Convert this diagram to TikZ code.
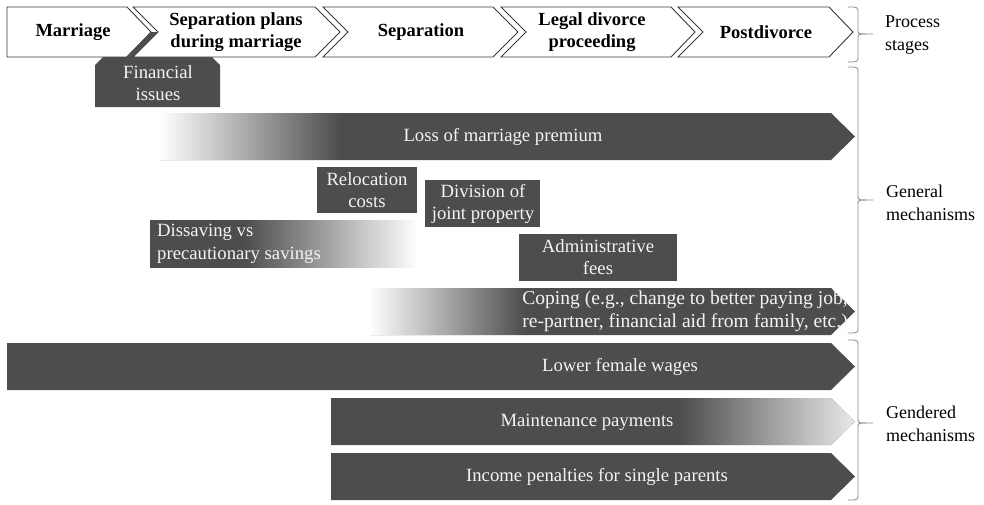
\documentclass[tikz,border=0pt]{standalone}
\usepackage{fontspec}
\setmainfont{Liberation Serif}
\definecolor{barc}{HTML}{4D4D4F}
\definecolor{chevline}{HTML}{3A3A3A}
\definecolor{bartext}{HTML}{F4F4F4}
\definecolor{bracec}{HTML}{8C8C8C}
\definecolor{fadeend}{HTML}{E8E8E8}
% horizontal colour ramp built from thin strips: x1, x2, y1, y2, start colour, end colour
\newcommand\gradstrip[6]{%
  \foreach \i in {0,...,89}{%
    \pgfmathsetmacro\xa{#1+(#2-#1)*\i/90}%
    \pgfmathsetmacro\xb{#1+(#2-#1)*(\i+1)/90+0.4}%
    \pgfmathsetmacro\pc{100*(\i+0.5)/90}%
    \fill[#6!\pc!#5] (\xa,#3) rectangle (\xb,#4);
  }}
\begin{document}
\begin{tikzpicture}[x=1pt,y=-1pt,
  chev/.style={draw=chevline, fill=white, line width=0.9pt, line join=miter},
  bar/.style={fill=barc},
  head/.style={font=\bfseries\fontsize{18.5}{21.5}\selectfont, align=center, text=black, inner sep=0pt},
  btxt/.style={font=\fontsize{18.7}{22.5}\selectfont, align=center, text=bartext, inner sep=0pt},
  side/.style={font=\fontsize{18}{22.5}\selectfont, align=left, anchor=west, inner sep=0pt},
  brace/.style={draw=bracec, line width=0.8pt}]
\useasboundingbox (0,0) rectangle (984,504);

% process stages (chevrons)
\path[chev] (7,7) -- (127,7) -- (151,32) -- (127,57) -- (7,57) -- cycle;
\path[chev] (133,7) -- (315,7) -- (340,32) -- (315,57) -- (133,57) -- (158,32) -- cycle;
\path[chev] (323,7) -- (493,7) -- (518,32) -- (493,57) -- (323,57) -- (348,32) -- cycle;
\path[chev] (501,7) -- (671,7) -- (695,32) -- (671,57) -- (501,57) -- (526,32) -- cycle;
\path[chev] (678,7) -- (829,7) -- (853,32) -- (829,57) -- (678,57) -- (703,32) -- cycle;
\node[head] (marriage) at (73,32) {Marriage};
\node[head] (plans) at (236,32) {Separation plans\\during marriage};
\node[head] (separation) at (421,32) {Separation};
\node[head] (legal) at (592,32) {Legal divorce\\proceeding};
\node[head] (post) at (766,32) {Postdivorce};

% financial issues callout hanging from the first stage boundary
\fill[barc] (151,32) -- (158,32) -- (133,57) -- (126,57) -- cycle;
\path[bar] (95,65) -- (103,57) -- (212,57) -- (220,65) -- (220,107) -- (95,107) -- cycle;
\node[btxt] (finance) at (158,83) {Financial\\issues};

% loss of marriage premium
\path[bar] (160,113) -- (831,113) -- (855,136.5) -- (831,160) -- (160,160) -- cycle;
\gradstrip{160}{340}{113}{160}{white}{barc}
\node[btxt] (loss) at (503,137) {Loss of marriage premium};

% relocation, division, dissaving, fees
\path[bar] (317,167) rectangle (417,213);
\node[btxt] (reloc) at (367,190) {Relocation\\costs};
\path[bar] (425,180) rectangle (540,227);
\node[btxt] (division) at (483,204) {Division of\\joint property};
\path[bar] (150,220) rectangle (246,268);
\gradstrip{245}{418}{220}{268}{barc}{white}
\node[btxt, align=left, anchor=west] (dissave) at (157,244) {Dissaving vs\\precautionary savings};
\path[bar] (519,234) rectangle (677,281);
\node[btxt] (fees) at (598,257) {Administrative\\fees};

% coping
\path[bar] (370,288) -- (831,288) -- (855,311.5) -- (831,335) -- (370,335) -- cycle;
\gradstrip{370}{525}{288}{335}{white}{barc}
\node[btxt, font=\fontsize{19.6}{23}\selectfont, align=right, anchor=east] (coping) at (848,311.5) {Coping (e.g., change to better paying job,\\re-partner, financial aid from family, etc.)};

% gendered mechanisms
\path[bar] (7,343) -- (831,343) -- (855,366.5) -- (831,390) -- (7,390) -- cycle;
\node[btxt] (wages) at (620,367) {Lower female wages};

\path[bar] (331,398) -- (831,398) -- (855,421.5) -- (831,445) -- (331,445) -- cycle;
\begin{scope}
  \clip (331,398) -- (831,398) -- (855,421.5) -- (831,445) -- (331,445) -- cycle;
  \gradstrip{680}{855}{398}{445}{barc}{fadeend}
\end{scope}
\node[btxt] (maint) at (587,422) {Maintenance payments};

\path[bar] (331,453) -- (831,453) -- (855,476.5) -- (831,500) -- (331,500) -- cycle;
\node[btxt] (penalty) at (597,477) {Income penalties for single parents};

% braces and their labels
\draw[brace] (848,7) .. controls (858,7) .. (858,13) -- (858,29) .. controls (858,34) .. (866,34) -- (873,34);
\draw[brace] (866,34) .. controls (858,34) .. (858,39) -- (858,56) .. controls (858,62) .. (848,62);
\draw[brace] (848,67) .. controls (858,67) .. (858,73) -- (858,195) .. controls (858,200) .. (866,200) -- (873,200);
\draw[brace] (866,200) .. controls (858,200) .. (858,205) -- (858,327) .. controls (858,333) .. (848,333);
\draw[brace] (848,340) .. controls (858,340) .. (858,346) -- (858,418) .. controls (858,423) .. (866,423) -- (873,423);
\draw[brace] (866,423) .. controls (858,423) .. (858,428) -- (858,494) .. controls (858,500) .. (848,500);
\node[side] (stages) at (885,35) {Process\\stages};
\node[side] (general) at (886,203) {General\\mechanisms};
\node[side] (gendered) at (886,424) {Gendered\\mechanisms};
\end{tikzpicture}
\end{document}
